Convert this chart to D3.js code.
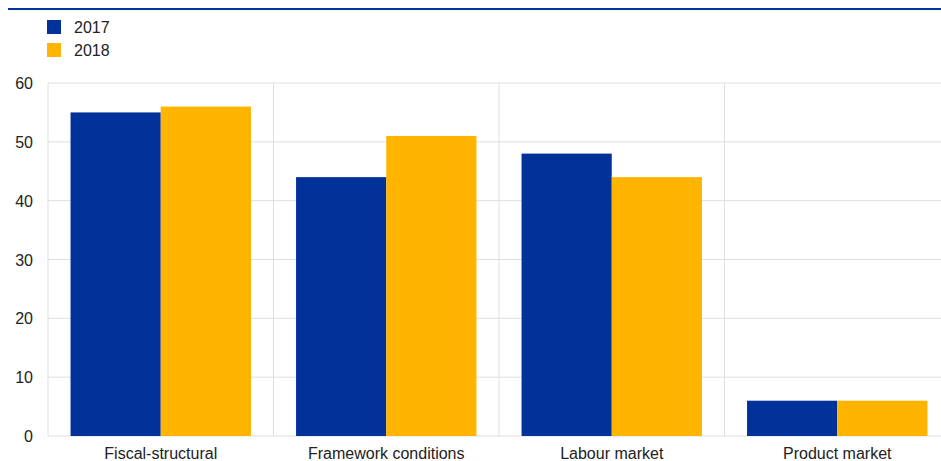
<!DOCTYPE html>
<html>
<head>
<meta charset="utf-8">
<script src="https://cdn.jsdelivr.net/npm/d3@7"></script>
<style>
  body { margin: 0; background: #fff; }
  svg { display: block; font-family: Arial, "Liberation Sans", sans-serif; }
</style>
</head>
<body>
<script>
const categories = ['Fiscal-structural', 'Framework conditions', 'Labour market', 'Product market'];
const seriesNames = ['2017', '2018'];
const values2017 = [55, 44, 48, 6];
const values2018 = [56, 51, 44, 6];
const yTicks = [0, 10, 20, 30, 40, 50, 60];

const colors = ['#003299', '#ffb400'];
const width = 941;
const height = 461;

const plot = {left: 48, right: 950, top: 83, bottom: 436};

const svg = d3.select('body').append('svg').
    attr('width', width).
    attr('height', height);

// top rule
svg.append('line').
    attr('x1', 8).attr('x2', width).
    attr('y1', 9).attr('y2', 9).
    attr('stroke', '#003299').
    attr('stroke-width', 2);

// legend
const legend = svg.selectAll('g.legend').data(seriesNames).enter().append('g').
    attr('class', 'legend').
    attr('transform', (d, i) => `translate(47, ${20 + i * 23})`);

legend.append('rect').
    attr('width', 14).attr('height', 14).
    attr('fill', (d, i) => colors[i]);

legend.append('text').
    attr('x', 27).attr('y', 13).
    attr('font-size', 16).
    attr('fill', '#222').
    text(d => d);

const x0 = d3.scaleBand().
    domain(categories).
    range([plot.left, plot.right]).
    paddingInner(0).
    paddingOuter(0);

const x1 = d3.scaleBand().
    domain(seriesNames).
    range([0, x0.bandwidth()]).
    paddingOuter(0.25);

const y = d3.scaleLinear().
    domain([0, 60]).
    range([plot.bottom, plot.top]);

// horizontal grid
svg.append('g').selectAll('line').data(yTicks).enter().append('line').
    attr('x1', plot.left).attr('x2', width).
    attr('y1', d => y(d)).attr('y2', d => y(d)).
    attr('stroke', '#dedede').
    attr('stroke-width', 1);

// vertical separators
svg.append('g').selectAll('line').data(categories).enter().append('line').
    attr('x1', d => x0(d)).attr('x2', d => x0(d)).
    attr('y1', plot.top).attr('y2', plot.bottom).
    attr('stroke', '#dedede').
    attr('stroke-width', 1);

// bars
const rows = categories.map((c, i) => ({cat: c, vals: [values2017[i], values2018[i]]}));

svg.append('g').selectAll('g').data(rows).enter().append('g').
    attr('transform', d => `translate(${x0(d.cat)}, 0)`).
    selectAll('rect').data(d => d.vals.map((v, i) => ({key: seriesNames[i], v, i}))).enter().append('rect').
    attr('x', d => x1(d.key)).
    attr('width', x1.bandwidth()).
    attr('y', d => y(d.v)).
    attr('height', d => y(0) - y(d.v)).
    attr('fill', d => colors[d.i]);

// y axis labels
svg.append('g').selectAll('text').data(yTicks).enter().append('text').
    attr('x', 33).
    attr('y', d => y(d) + 6).
    attr('text-anchor', 'end').
    attr('font-size', 16).
    attr('fill', '#222').
    text(d => d);

// x axis labels
svg.append('g').selectAll('text').data(categories).enter().append('text').
    attr('x', d => x0(d) + x0.bandwidth() / 2).
    attr('y', 459).
    attr('text-anchor', 'middle').
    attr('font-size', 16).
    attr('fill', '#222').
    text(d => d);
</script>
</body>
</html>
